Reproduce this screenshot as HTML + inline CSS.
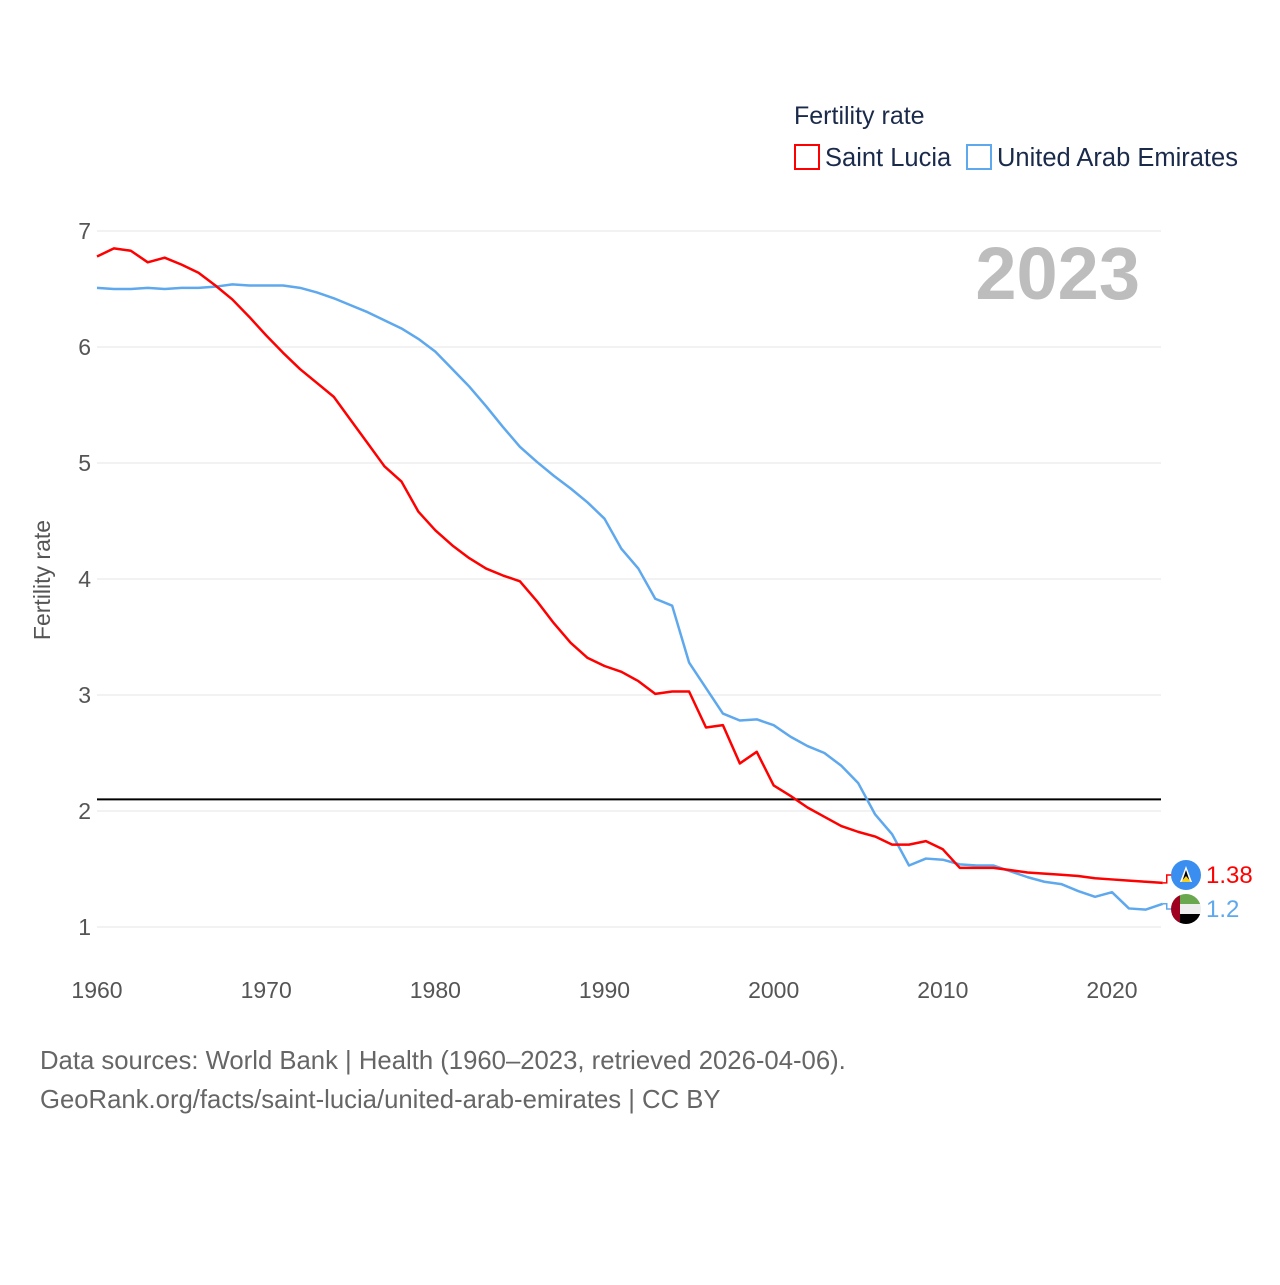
<!DOCTYPE html>
<html><head><meta charset="utf-8"><style>
body{margin:0;background:#fff;font-family:"Liberation Sans",sans-serif}
svg text{font-family:"Liberation Sans",sans-serif}
</style></head><body>
<svg id="chart" width="1280" height="1280" xmlns="http://www.w3.org/2000/svg">
<text x="794" y="124" font-size="25" fill="#1a2a4a">Fertility rate</text>
<g><rect x="795" y="145" width="24" height="24" fill="none" stroke="#ff0000" stroke-width="2"/><text x="825" y="166" font-size="25.5" fill="#1a2a4a">Saint Lucia</text></g>
<g><rect x="967" y="145" width="24" height="24" fill="none" stroke="#5ea8ee" stroke-width="2"/><text x="997" y="166" font-size="25.5" fill="#1a2a4a">United Arab Emirates</text></g>
<text x="1140" y="299" font-size="74" font-weight="bold" fill="#bdbdbd" text-anchor="end">2023</text>
<text transform="translate(50,580) rotate(-90)" font-size="23" fill="#555" text-anchor="middle">Fertility rate</text>
<g id="grid"></g><g id="lines"></g><g id="labels"></g>
<text x="40" y="1069" font-size="25.7" fill="#666">Data sources: World Bank | Health (1960–2023, retrieved 2026-04-06).</text>
<text x="40" y="1108" font-size="25.7" fill="#666">GeoRank.org/facts/saint-lucia/united-arab-emirates | CC BY</text>
</svg>
<script>
const startYear = 1960;
const yTicks = [1,2,3,4,5,6,7];
const xTicks = [1960,1970,1980,1990,2000,2010,2020];
const replacementRate = 2.1;
const saintLucia = [6.78,6.85,6.83,6.73,6.77,6.71,6.64,6.53,6.41,6.26,6.10,5.95,5.81,5.69,5.57,5.37,5.17,4.97,4.84,4.58,4.42,4.29,4.18,4.09,4.03,3.98,3.81,3.62,3.45,3.32,3.25,3.20,3.12,3.01,3.03,3.03,2.72,2.74,2.41,2.51,2.22,2.13,2.03,1.95,1.87,1.82,1.78,1.71,1.71,1.74,1.67,1.51,1.51,1.51,1.49,1.47,1.46,1.45,1.44,1.42,1.41,1.40,1.39,1.38];
const uae = [6.51,6.50,6.50,6.51,6.50,6.51,6.51,6.52,6.54,6.53,6.53,6.53,6.51,6.47,6.42,6.36,6.30,6.23,6.16,6.07,5.96,5.81,5.66,5.49,5.31,5.14,5.01,4.89,4.78,4.66,4.52,4.26,4.09,3.83,3.77,3.28,3.06,2.84,2.78,2.79,2.74,2.64,2.56,2.50,2.39,2.24,1.97,1.80,1.53,1.59,1.58,1.54,1.53,1.53,1.48,1.43,1.39,1.37,1.31,1.26,1.30,1.16,1.15,1.20];
const NS="http://www.w3.org/2000/svg";
const X0=97,X1=1161;
function xs(yr){return 97+(yr-1960)*(1112-97)/60;}
function ys(v){return 231+(7-v)*116;}
function mk(tag,attrs,parent){const e=document.createElementNS(NS,tag);for(const k in attrs)e.setAttribute(k,attrs[k]);parent.appendChild(e);return e;}
const grid=document.getElementById('grid'),lines=document.getElementById('lines'),labels=document.getElementById('labels');
yTicks.forEach(t=>{
 const l=mk('line',{x1:X0,x2:X1,y1:ys(t),y2:ys(t),stroke:'#e6e6e6','stroke-width':1},grid);
 
 
 const tx=mk('text',{x:91,y:ys(t)+8,'font-size':23,fill:'#555','text-anchor':'end'},grid);tx.textContent=t;
 
 
});
xTicks.forEach(t=>{
 const tx=mk('text',{x:xs(t),y:998,'font-size':23,fill:'#555','text-anchor':'middle'},grid);tx.textContent=t;
 
 
});
const rl=mk('line',{x1:X0,x2:X1,y1:ys(replacementRate),y2:ys(replacementRate),stroke:'#000','stroke-width':2},lines);


function series(data,color,name){
 const p=mk('polyline',{points:data.map((v,i)=>xs(startYear+i)+','+ys(v)).join(' '),fill:'none',stroke:color,'stroke-width':2.5,'stroke-linejoin':'round'},lines);
 
 
}
series(uae,'#5ea8ee','uae-line');
series(saintLucia,'#ff0000','saint-lucia-line');
const lastX=xs(startYear+saintLucia.length-1);
const slY=ys(saintLucia[saintLucia.length-1]), uaY=ys(uae[uae.length-1]);
const slLY=875, uaLY=909;
mk('polyline',{points:`${lastX},${slY} ${lastX+4},${slY} ${lastX+4},${slLY} ${lastX+10},${slLY}`,fill:'none',stroke:'#ff0000','stroke-width':1.5},labels);
mk('polyline',{points:`${lastX},${uaY} ${lastX+4},${uaY} ${lastX+4},${uaLY} ${lastX+10},${uaLY}`,fill:'none',stroke:'#5ea8ee','stroke-width':1.5},labels);
const f1=mk('g',{},labels);


mk('circle',{cx:1186,cy:875,r:15,fill:'#3a8ef0'},f1);
mk('polygon',{points:'1186,866 1192,882 1180,882',fill:'#fff'},f1);
mk('polygon',{points:'1186,870 1190,882 1182,882',fill:'#000'},f1);
mk('polygon',{points:'1186,876 1191,882 1181,882',fill:'#f5d020'},f1);
const f2=mk('g',{},labels);


const cp=mk('clipPath',{id:'fc'},f2);
mk('circle',{cx:1186,cy:909,r:15},cp);
const fg=mk('g',{'clip-path':'url(#fc)'},f2);
mk('rect',{x:1171,y:894,width:30,height:10,fill:'#6aa84f'},fg);
mk('rect',{x:1171,y:904,width:30,height:10,fill:'#eee'},fg);
mk('rect',{x:1171,y:914,width:30,height:10,fill:'#000'},fg);
mk('rect',{x:1171,y:894,width:9,height:30,fill:'#a00020'},fg);
const t1=mk('text',{x:1206,y:883,'font-size':24,fill:'#ff0000'},labels);t1.textContent=saintLucia[saintLucia.length-1].toFixed(2);


const t2=mk('text',{x:1206,y:917,'font-size':24,fill:'#5ea8ee'},labels);t2.textContent=String(uae[uae.length-1]);


</script>
</body></html>
